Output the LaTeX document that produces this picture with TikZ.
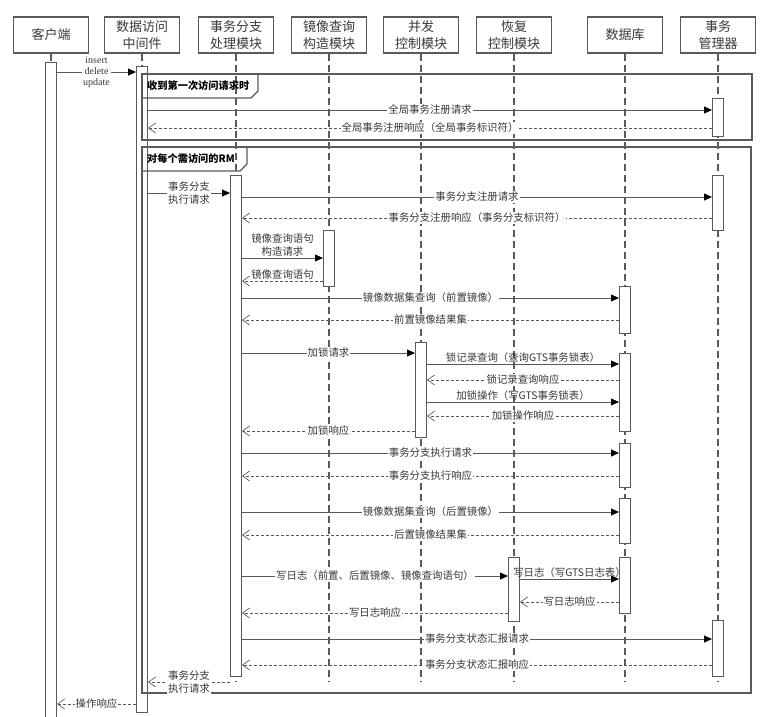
\documentclass[tikz,border=0pt]{standalone}
\usepackage{fontspec}
\setmainfont{Liberation Serif}
\newfontfamily\cjk{Noto Sans CJK SC}
\usetikzlibrary{arrows.meta}
\definecolor{ln}{HTML}{5A5A5A}
\definecolor{tx}{HTML}{383838}

\begin{document}
\begin{tikzpicture}[x=1pt, y=-1pt,
head/.style={draw=ln, line width=1.2pt, minimum width=75pt, minimum height=36pt,
    align=center, text=tx, font=\cjk\fontsize{13}{17}\selectfont},
life/.style={draw=ln, line width=1.1pt, dash pattern=on 7pt off 4pt},
actbar/.style={draw=ln, line width=1pt, fill=white, minimum width=11pt, anchor=north, inner sep=0pt},
call/.style={draw=ln, line width=0.8pt, -{Triangle[length=8pt,width=7pt,color=black]}},
ret/.style={draw=ln, line width=0.7pt, dash pattern=on 3pt off 2pt, -{Straight Barb[length=7pt,width=10pt]}},
on/.style={fill=white, inner sep=1pt, text=tx, align=center, font=\cjk\fontsize{10.4}{13}\selectfont},
up/.style={above=0pt, inner sep=1.5pt, text=tx, align=center, font=\cjk\fontsize{10.4}{13}\selectfont},
latin/.style={on, font=\rmfamily\fontsize{10}{11}\selectfont},
frm/.style={draw=ln, line width=1.2pt},
tag/.style={anchor=west, inner sep=0pt, font=\cjk\bfseries\fontsize{10.2}{12}\selectfont}
]
\useasboundingbox (0,0) rectangle (761,716);

\foreach \n/\x/\t in {c/51/客户端, m/142/{数据访问\\中间件}, b/236/{事务分支\\处理模块},
                      q/329/{镜像查询\\构造模块}, k/421/{并发\\控制模块}, r/514/{恢复\\控制模块},
                      d/625/数据库, t/718/{事务\\管理器}}
    \node[head] (\n) at (\x,35) {\t};

\foreach \n in {c,m,b,q,k,r,d,t}
    \draw[life] (\n.south) -- (\n.south |- 0,682);

\foreach \n/\h/\ya/\yb in {cb/c/62/730, mb/m/66/712, bb/b/175/676, qb/q/230/286,
                           kb/k/342/437, rb/r/557/621,
                           d1/d/286/333, d2/d/353/431, d3/d/443/487, d4/d/498/543, d5/d/557/613,
                           t1/t/98/136, t2/t/175/230, t3/t/620/676}
    \node[actbar, minimum height=\yb pt-\ya pt] (\n) at (\h.south |- 0,\ya) {};

% combined fragments
\draw[frm] (mb.center |- 0,74) rectangle (752,140);
\draw[frm] (mb.center |- 0,98) -- (251,98) -- (258,91) -- (258,74);
\node[tag] (f1) at (147,86) {收到第一次访问请求时};
\draw[frm] (mb.center |- 0,147) rectangle (751,693);
\draw[frm] (mb.center |- 0,171) -- (240,171) -- (247,164) -- (247,147);
\node[tag] (f2) at (147,159) {对每个需访问的RM};

\foreach \a/\b/\y/\s/\p/\t in {%
    cb.east/mb.west/72/call/latin/{insert\\delete\\update},
    mb.east/t1.west/110/call/on/全局事务注册请求,
    t1.west/mb.east/128/ret/on/全局事务注册响应（全局事务标识符）,
    mb.east/bb.west/193/call/on/{事务分支\\执行请求},
    bb.east/t2.west/197/call/on/事务分支注册请求,
    t2.west/bb.east/218/ret/on/事务分支注册响应（事务分支标识符）,
    bb.east/qb.west/258/call/up/{镜像查询语句\\构造请求},
    qb.west/bb.east/281/ret/up/镜像查询语句,
    bb.east/d1.west/298/call/on/镜像数据集查询（前置镜像）,
    d1.west/bb.east/320/ret/on/前置镜像结果集,
    bb.east/kb.west/353/call/on/加锁请求,
    kb.east/d2.west/364/call/up/锁记录查询（查询GTS事务锁表）,
    d2.west/kb.east/380/ret/on/锁记录查询响应,
    kb.east/d2.west/402/call/up/加锁操作（写GTS事务锁表）,
    d2.west/kb.east/416/ret/on/加锁操作响应,
    kb.west/bb.east/431/ret/on/加锁响应,
    bb.east/d3.west/453/call/on/事务分支执行请求,
    d3.west/bb.east/476/ret/on/事务分支执行响应,
    bb.east/d4.west/512/call/on/镜像数据集查询（后置镜像）,
    d4.west/bb.east/535/ret/on/后置镜像结果集,
    bb.east/rb.west/576/call/on/写日志（前置、后置镜像、镜像查询语句）,
    rb.east/d5.west/579/call/up/写日志（写GTS日志表）,
    d5.west/rb.east/602/ret/on/写日志响应,
    rb.west/bb.east/613/ret/on/写日志响应,
    bb.east/t3.west/639/call/on/事务分支状态汇报请求,
    t3.west/bb.east/665/ret/on/事务分支状态汇报响应,
    bb.west/mb.east/682/ret/on/{事务分支\\执行请求},
    mb.west/cb.east/704/ret/on/操作响应%
    }
    \draw[\s] (\a |- 0,\y) -- (\b |- 0,\y) node[midway,\p] (l\y) {\t};
\end{tikzpicture}
\end{document}
